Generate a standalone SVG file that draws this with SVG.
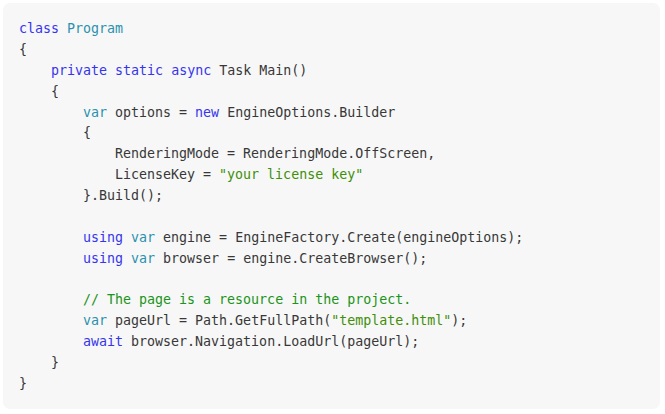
<svg xmlns="http://www.w3.org/2000/svg" width="665" height="414" viewBox="0 0 665 414">
<style>
text{font-family:"DejaVu Sans Mono","Liberation Mono",monospace;font-size:13.3px;fill:#383838;white-space:pre}
.k{fill:#3535ee}
.t{fill:#2b91af}
.s{fill:#3f8f0a}
.c{fill:#1a941a}
</style>
<rect x="3" y="3" width="657" height="406" rx="7" fill="#f7f7f7"/>
<g id="code" xml:space="preserve">
<text x="19" y="33"><tspan class="k">class</tspan> <tspan class="t">Program</tspan></text>
<text x="19" y="53.9">{</text>
<text x="51" y="74.8"><tspan class="k">private</tspan> <tspan class="k">static</tspan> <tspan class="k">async</tspan> Task Main()</text>
<text x="51" y="95.6">{</text>
<text x="83" y="116.5"><tspan class="t">var</tspan> options = <tspan class="k">new</tspan> EngineOptions.Builder</text>
<text x="83" y="137.4">{</text>
<text x="115" y="158.3">RenderingMode = RenderingMode.OffScreen,</text>
<text x="115" y="179.2">LicenseKey = <tspan class="s">"your license key"</tspan></text>
<text x="83" y="200">}.Build();</text>
<text x="83" y="241.8"><tspan class="k">using</tspan> <tspan class="t">var</tspan> engine = EngineFactory.Create(engineOptions);</text>
<text x="83" y="262.7"><tspan class="k">using</tspan> <tspan class="t">var</tspan> browser = engine.CreateBrowser();</text>
<text x="83" y="304.4" class="c">// The page is a resource in the project.</text>
<text x="83" y="325.3"><tspan class="t">var</tspan> pageUrl = Path.GetFullPath(<tspan class="s">"template.html"</tspan>);</text>
<text x="83" y="346.2"><tspan class="k">await</tspan> browser.Navigation.LoadUrl(pageUrl);</text>
<text x="51" y="367">}</text>
<text x="19" y="388">}</text>
</g>
</svg>
